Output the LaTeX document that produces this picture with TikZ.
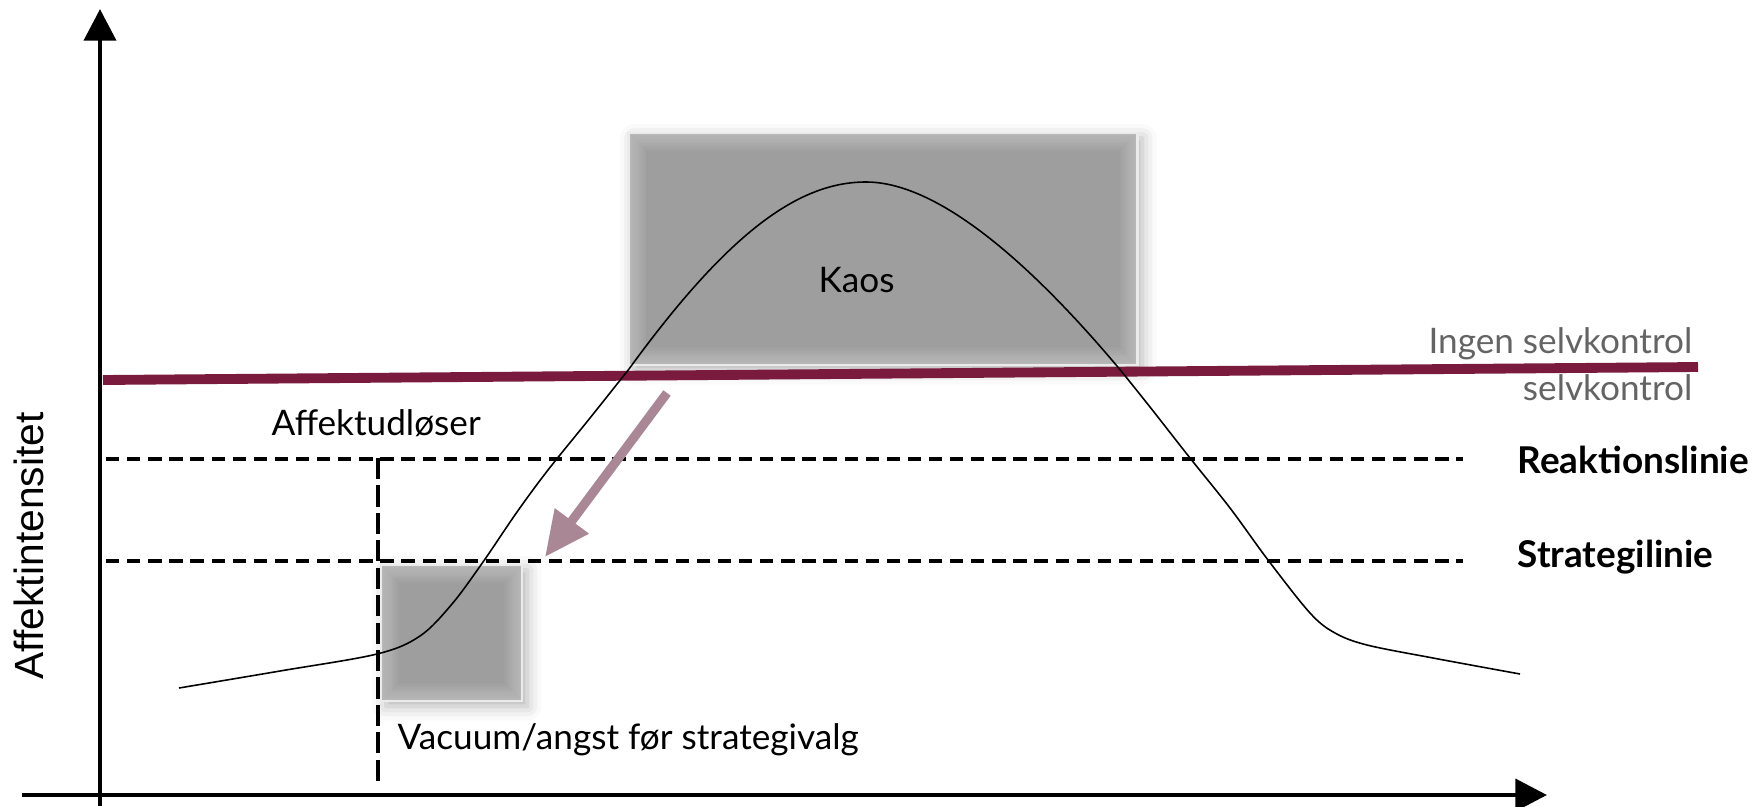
\documentclass[tikz,border=0pt]{standalone}
\usepackage{fontspec}
\setmainfont{Lato}
\newfontfamily\axisfont{Liberation Sans}
\usetikzlibrary{arrows.meta,shadows.blur}

\definecolor{kaosgrey}{RGB}{158,158,158}
\definecolor{linepurple}{RGB}{122,26,60}
\definecolor{arrowmauve}{RGB}{170,135,148}
\definecolor{labelgrey}{RGB}{100,100,100}

\begin{document}
\begin{tikzpicture}[
  x=0.01cm, y=-0.01cm,
  every node/.style={inner sep=0pt},
  txt/.style={font=\fontsize{10}{12}\selectfont},
  boldtxt/.style={font=\fontsize{10.5}{12}\selectfont\bfseries},
  greybox/.style={fill=kaosgrey, draw=black!8, line width=0.8pt,
    blur shadow={shadow xshift=1.5pt, shadow yshift=-1.5pt, shadow blur radius=4pt, shadow opacity=30},
    path picture={
      \foreach \w in {1,2,...,10}
        \draw[white, opacity=.035, line width=\w pt] (path picture bounding box.south west) rectangle (path picture bounding box.north east);}},
  axisline/.style={line width=1.4pt, -{Triangle[length=9pt,width=9pt]}},
  guideline/.style={line width=1.4pt, dash pattern=on 3.8pt off 2.2pt},
  >=Stealth
]
\useasboundingbox (0,0) rectangle (1752,806);

% shaded zones
\node[greybox, minimum width=5.08cm, minimum height=2.32cm] (kaosbox) at (883,249) {};
\node[greybox, minimum width=1.41cm, minimum height=1.36cm] (vacuumbox) at (451.5,633) {};

% axes
\coordinate (ybot) at (100,806);
\coordinate (ytop) at (100,9);
\coordinate (xleft) at (22,795);
\coordinate (xright) at (1547,795);
\draw[axisline] (ybot) -- (ytop);
\draw[axisline] (xleft) -- (xright);

% limit lines
\coordinate (reakt1) at (106,459);
\coordinate (reakt2) at (1463,459);
\coordinate (strat1) at (106,561);
\coordinate (strat2) at (1463,561);
\draw[guideline] (reakt1) -- (reakt2);
\draw[guideline] (strat1) -- (strat2);

\coordinate (trig1) at (378,458);
\coordinate (trig2) at (378,782);
\draw[line width=1pt, dash pattern=on 6pt off 1.8pt] (trig1) -- (trig2);

\coordinate (ctrl1) at (103,380);
\coordinate (ctrl2) at (1698,367);
\draw[linepurple, line width=2.8pt] (ctrl1) -- (ctrl2);

% affect curve
\coordinate (rise) at (629,369);
\coordinate (peak) at (866,182);
\coordinate (fall) at (1122,372);
\draw[line width=0.45pt] plot[smooth, tension=0.55] coordinates {
  (179,688) (280,671) (377,654) (420,636) (452,604) (483,562) (517,512)
  (548,470) (590,418) (629,369)};
\draw[line width=0.45pt] (rise) .. controls (730,230) and (800,182) .. (peak)
  .. controls (932,182) and (1020,250) .. (fall);
\draw[line width=0.45pt] plot[smooth, tension=0.55] coordinates {
  (1122,372) (1150,407) (1190,458) (1230,508) (1268,560) (1310,613)
  (1335,633) (1367,645) (1433,658) (1520,674)};

% fall back arrow
\coordinate (falltail) at (667,393);
\coordinate (falltip) at (545,557);
\draw[arrowmauve, line width=2.6pt, -{Triangle[length=12.8pt,width=11.4pt]}] (falltail) -- (falltip);

% labels
\node[txt, anchor=base west] (kaos) at (818,292) {Kaos};
\node[txt, anchor=base west] (trigger) at (271,435) {Affektudløser};
\node[txt, anchor=base west] (vacuum) at (397,749) {Vacuum/angst før strategivalg};
\node[txt, text=labelgrey, anchor=base east] (noctrl) at (1693,353) {Ingen selvkontrol};
\node[txt, text=labelgrey, anchor=base east] (ctrl) at (1693,400) {selvkontrol};
\node[boldtxt, anchor=base west] (reaktlbl) at (1517,473) {Reaktionslinie};
\node[boldtxt, anchor=base west] (stratlbl) at (1517,567) {Strategilinie};
\node[font=\axisfont\fontsize{11.6}{13}\selectfont, rotate=90, anchor=base west] (yaxislbl) at (43,680) {Affektintensitet};
\end{tikzpicture}
\end{document}
